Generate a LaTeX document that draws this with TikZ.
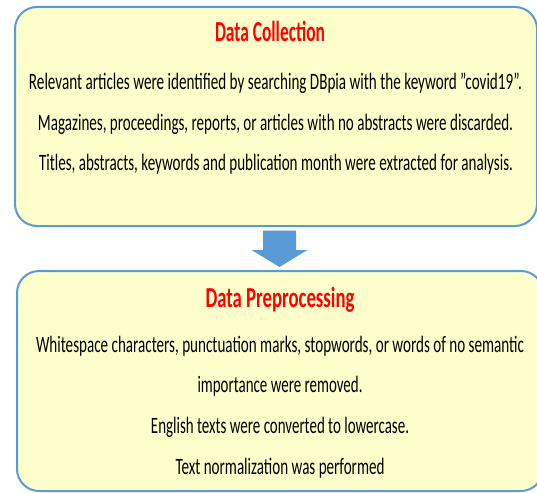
\documentclass[tikz,border=0pt]{standalone}
\usepackage{fontspec}
\setmainfont{Carlito}
\usepackage{graphicx}
\usetikzlibrary{calc}
\definecolor{boxfill}{HTML}{FFFFCC}
\definecolor{boxline}{HTML}{5B9BD5}
\definecolor{titlered}{HTML}{FF0000}
\newcommand{\fitline}[2]{\resizebox{#1pt}{\height}{#2}}
\begin{document}
\begin{tikzpicture}[x=1pt,y=-1pt,
  panel/.style={draw=boxline, line width=2pt, fill=boxfill, rounded corners=22pt, inner sep=0pt},
  ttl/.style={anchor=base, text=titlered, font=\fontsize{29}{29}\selectfont\bfseries, inner sep=0pt},
  txt/.style={anchor=base, text=black, font=\fontsize{23.5}{23.5}\selectfont, inner sep=0pt},
  blockarrow/.style={fill=boxline, draw=none}]
\useasboundingbox (0,0) rectangle (537,492);
\node[panel, minimum width=522pt, minimum height=219pt, anchor=north west] (top) at (14,6) {};
\node[panel, minimum width=526pt, minimum height=220pt, anchor=north west] (bot) at (16,270) {};

\node[ttl] (t1) at (270,42) {\fitline{110}{Data Collection}};
\node[txt] (a1) at (275.5,89) {\fitline{493}{Relevant articles were identified by searching DBpia with the keyword \symbol{34}covid19\symbol{34}.}};
\node[txt] (a2) at (275.5,130) {\fitline{475}{Magazines, proceedings, reports, or articles with no abstracts were discarded.}};
\node[txt] (a3) at (276,170) {\fitline{474}{Titles, abstracts, keywords and publication month were extracted for analysis.}};

\node[ttl] (t2) at (280,307) {\fitline{149}{Data Preprocessing}};
\node[txt] (b1) at (280,352) {\fitline{488}{Whitespace characters, punctuation marks, stopwords, or words of no semantic}};
\node[txt] (b2) at (280,392) {\fitline{165}{importance were removed.}};
\node[txt] (b3) at (280,433) {\fitline{258}{English texts were converted to lowercase.}};
\node[txt] (b4) at (280,474) {\fitline{209}{Text normalization was performed}};

\coordinate (m) at ($(top.south)!0.5!(bot.north)+(1.5,0)$);
\path[blockarrow] ($(m)+(-16.5,-18)$) -- ($(m)+(16.5,-18)$) -- ($(m)+(16.5,1.5)$) -- ($(m)+(28,1.5)$)
  -- ($(m)+(0,18.5)$) -- ($(m)+(-28,1.5)$) -- ($(m)+(-16.5,1.5)$) -- cycle;
\end{tikzpicture}
\end{document}
